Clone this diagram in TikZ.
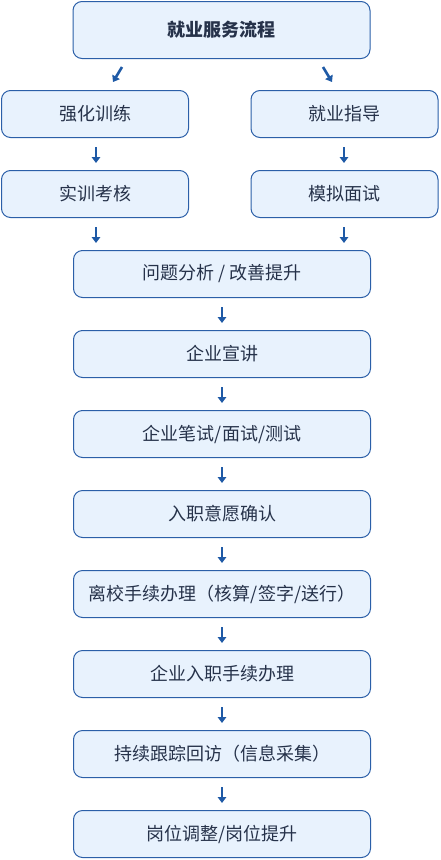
\documentclass[tikz,border=0pt]{standalone}
\usepackage{fontspec}
\setmainfont{Noto Sans CJK SC}
\usetikzlibrary{arrows.meta}
\definecolor{boxfill}{HTML}{E8F2FD}
\definecolor{boxline}{HTML}{2B5FA8}
\definecolor{txt}{HTML}{26324A}
\definecolor{arr}{HTML}{1F5AA6}
\tikzset{
  box/.style={draw=boxline, fill=boxfill, line width=1pt, rounded corners=9pt,
    minimum height=47pt, inner sep=0pt, text=txt, font=\fontsize{18pt}{20pt}\selectfont},
  wide/.style={box, minimum width=297pt},
  side/.style={box, minimum width=187pt},
  flow/.style={-{Triangle[width=8.5pt,length=6pt]}, draw=arr, line width=2.6pt, shorten <=9pt, shorten >=7pt},
  diag/.style={-{Triangle[width=8.5pt,length=6pt]}, draw=arr, line width=2.6pt}
}
\begin{document}
\begin{tikzpicture}[x=1pt,y=1pt]
\useasboundingbox (0,0) rectangle (440,-860);
\node[box, minimum width=297pt, minimum height=57pt, font=\fontsize{18pt}{20pt}\selectfont\bfseries] (top) at (221.5,-30) {就业服务流程};
\node[side] (a1) at (95,-114) {强化训练};
\node[side] (b1) at (344.5,-114) {就业指导};
\node[side] (a2) at (95,-194) {实训考核};
\node[side] (b2) at (344.5,-194) {模拟面试};
\node[wide] (c1) at (222,-274) {问题分析 / 改善提升};
\node[wide] (c2) at (222,-354) {企业宣讲};
\node[wide] (c3) at (222,-434) {企业笔试/面试/测试};
\node[wide] (c4) at (222,-514) {入职意愿确认};
\node[wide] (c5) at (222,-594) {离校手续办理（核算/签字/送行）};
\node[wide] (c6) at (222,-674) {企业入职手续办理};
\node[wide] (c7) at (222,-754) {持续跟踪回访（信息采集）};
\node[wide] (c8) at (222,-834) {岗位调整/岗位提升};
\coordinate (ls) at (122,-67);
\coordinate (le) at (113,-82);
\coordinate (rs) at (323,-67);
\coordinate (re) at (332,-82);
\draw[diag] (ls) -- (le);
\draw[diag] (rs) -- (re);
\draw[flow] (a1.south -| 96,0) -- (a2.north -| 96,0);
\draw[flow] (b1.south -| 344,0) -- (b2.north -| 344,0);
\draw[flow] (a2.south -| 96,0) -- (c1.north -| 96,0);
\draw[flow] (b2.south -| 344,0) -- (c1.north -| 344,0);
\draw[flow] (c1) -- (c2);
\draw[flow] (c2) -- (c3);
\draw[flow] (c3) -- (c4);
\draw[flow] (c4) -- (c5);
\draw[flow] (c5) -- (c6);
\draw[flow] (c6) -- (c7);
\draw[flow] (c7) -- (c8);
\end{tikzpicture}
\end{document}
